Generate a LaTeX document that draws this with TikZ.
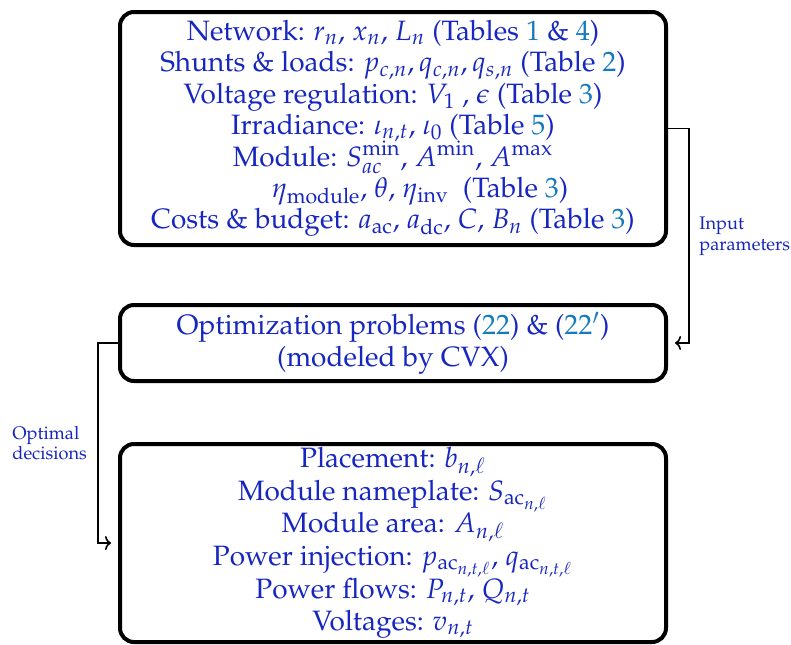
\documentclass[tikz,border=0pt]{standalone}
\usepackage[T1]{fontenc}
\usepackage{mathpazo}
\usetikzlibrary{arrows.meta}
\definecolor{txtblue}{RGB}{22,38,190}
\definecolor{lnk}{RGB}{22,122,190}
\newcommand{\lk}[1]{\textcolor{lnk}{#1}}
\newcommand{\fixls}{\setlength{\lineskiplimit}{-10pt}}
\tikzset{
  box/.style={draw=black, line width=2pt, rounded corners=7pt, text=txtblue,
    align=center, inner sep=0pt, minimum width=273pt},
  conn/.style={draw=black, line width=0.8pt, -{To[length=3pt,width=7pt]}, shorten >=3.5pt},
  lbl/.style={text=txtblue, align=left, inner sep=0pt, font=\fontsize{9.1}{10.3}\selectfont},
}
\begin{document}
\begin{tikzpicture}[x=0.5pt,y=-0.5pt]
\useasboundingbox (0,0) rectangle (791,644);
\node[box, minimum height=116.5pt, font=\fontsize{14}{15.7}\selectfont\fixls] (b1) at (393,128.5) {%
Network: $r_n$, $x_n$, $L_n$ (Tables \lk{1} \& \lk{4})\\
Shunts \& loads: $p_{c,n}, q_{c,n}, q_{s,n}$ (Table \lk{2})\\
Voltage regulation: $V_1$ , $\epsilon$ (Table \lk{3})\\
Irradiance: $\iota_{n,t}$, $\iota_0$ (Table \lk{5})\\
Module: $S_{ac}^{\min}$, $A^{\min}$, $A^{\max}$\\
\hspace*{27pt}$\eta_{\mathrm{module}}$, $\theta$, $\eta_{\mathrm{inv}}$~~(Table \lk{3})\\
Costs \& budget: $a_{\mathrm{ac}}$, $a_{\mathrm{dc}}$, $C$, $B_n$ (Table \lk{3})};
\node[box, minimum height=38pt, font=\fontsize{14}{16}\selectfont\fixls] (b2) at (393,343) {%
Optimization problems (\lk{22}) \& (\lk{22$'$})\\
(modeled by CVX)};
\node[box, minimum height=99pt, font=\fontsize{14}{16.3}\selectfont\fixls] (b3) at (393,543) {%
Placement: $b_{n,\ell}$\\
Module nameplate: $S_{\mathrm{ac}_{n,\ell}}$\\
Module area: $A_{n,\ell}$\\
Power injection: $p_{\mathrm{ac}_{n,t,\ell}}$, $q_{\mathrm{ac}_{n,t,\ell}}$\\
Power flows: $P_{n,t}$, $Q_{n,t}$\\
Voltages: $v_{n,t}$};
\coordinate (rc) at (689,0);
\coordinate (lc) at (98,0);
\draw[conn] (b1.east) -- (b1.east -| rc) |- (b2.east);
\draw[conn] (b2.west) -- (b2.west -| lc) |- (b3.west);
\node[lbl, anchor=west] (inp) at (699,236) {Input\\parameters};
\node[lbl, anchor=west] (opt) at (12,443) {Optimal\\decisions};
\end{tikzpicture}
\end{document}
